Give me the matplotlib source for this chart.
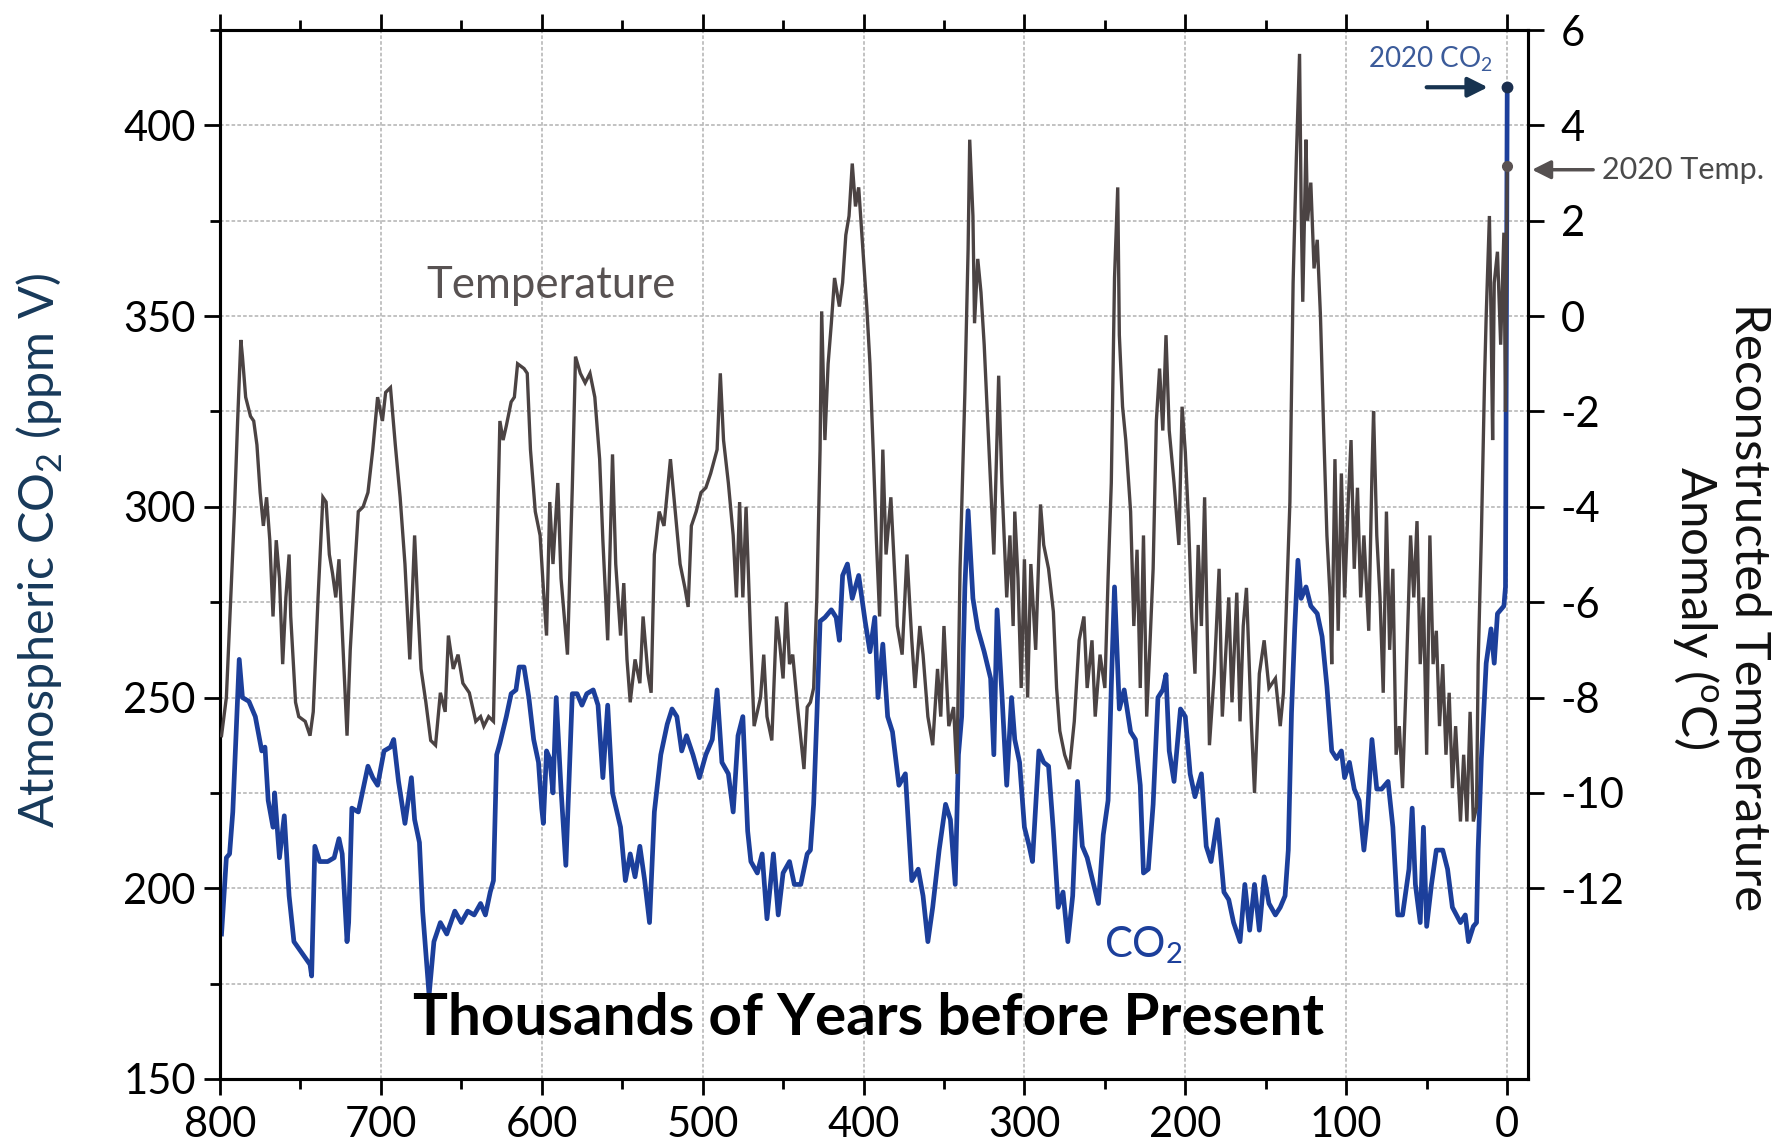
import matplotlib
matplotlib.use('Agg')
import matplotlib.pyplot as plt
from matplotlib.ticker import FixedLocator

plt.rcParams['font.family'] = ['Lato', 'DejaVu Sans']
plt.rcParams['axes.unicode_minus'] = False

# ---------------- data ----------------
co2_age = [799, 796, 794, 792, 788, 786, 782, 778, 774, 772, 770, 767, 766, 763, 760, 757, 754, 749, 744, 743,
           741, 738, 733, 729, 726, 724, 721, 720, 718, 714, 708, 705, 702, 698, 694, 692, 689, 685, 681, 679,
           676, 674, 670, 667, 663, 659, 654, 650, 646, 642, 638, 635, 632, 630, 628, 626, 622, 619, 616, 614,
           611, 608, 605, 602, 600, 599, 597, 595, 593, 591, 588, 585, 581, 578, 575, 572, 568, 565, 562, 559,
           556, 551, 548, 545, 542, 539, 536, 533, 530, 526, 522, 519, 516, 513, 510, 506, 502, 498, 494, 491,
           488, 484, 481, 478, 475, 472, 470, 466, 463, 460, 456, 453, 450, 446, 443, 439, 435, 433, 431, 429,
           427, 424, 420, 417, 415, 413, 410, 407, 403, 399, 396, 393, 391, 388, 385, 382, 378, 374, 370, 366,
           363, 360, 357, 353, 349, 346, 343, 341, 339, 337, 335, 332, 329, 325, 321, 319, 317, 314, 311, 308,
           306, 303, 300, 297, 295, 291, 288, 285, 282, 279, 276, 273, 270, 267, 264, 261, 257, 254, 251, 248,
           246, 244, 241, 238, 234, 231, 228, 226, 223, 220, 217, 214, 212, 210, 207, 203, 200, 197, 194, 190,
           187, 184, 180, 176, 173, 170, 166, 163, 160, 157, 154, 151, 148, 144, 141, 138, 136, 134, 132, 130,
           128, 125, 122, 118, 115, 112, 109, 106, 103, 101, 98, 95, 92, 89, 87, 84, 81, 78, 74, 71,
           68, 65, 61, 59, 57, 54, 52, 50, 47, 44, 40, 37, 34, 29, 26, 24, 21, 19, 18, 16,
           13, 10, 8, 6, 2, 1, -0.07]
co2_ppm = [188, 208, 209, 220, 260, 250, 249, 245, 236, 237, 223, 216, 225, 208, 219, 198, 186, 183, 180, 177,
           211, 207, 207, 208, 213, 209, 186, 191, 221, 220, 232, 229, 227, 236, 237, 239, 228, 217, 229, 218,
           212, 194, 172, 186, 191, 188, 194, 191, 194, 193, 196, 193, 199, 202, 235, 238, 245, 251, 252, 258,
           258, 250, 239, 233, 221, 217, 236, 234, 225, 250, 226, 206, 251, 251, 248, 251, 252, 248, 229, 248,
           225, 216, 202, 209, 203, 211, 202, 191, 220, 235, 243, 247, 245, 236, 240, 235, 229, 235, 239, 252,
           233, 230, 220, 240, 245, 215, 207, 204, 209, 192, 209, 193, 204, 207, 201, 201, 209, 210, 222, 245,
           270, 271, 273, 271, 265, 282, 285, 276, 282, 270, 262, 271, 250, 264, 245, 241, 227, 230, 202, 205,
           198, 186, 195, 210, 222, 218, 201, 235, 245, 279, 299, 276, 268, 262, 255, 235, 273, 251, 227, 250,
           239, 233, 216, 211, 207, 236, 233, 232, 215, 195, 199, 186, 198, 228, 211, 208, 201, 196, 214, 223,
           253, 279, 247, 252, 241, 239, 227, 204, 205, 222, 250, 252, 256, 236, 228, 247, 245, 230, 224, 230,
           211, 207, 218, 199, 197, 191, 186, 201, 189, 201, 189, 203, 196, 193, 195, 198, 210, 246, 268, 286,
           276, 279, 274, 272, 266, 253, 236, 234, 236, 229, 233, 226, 223, 210, 218, 239, 226, 226, 228, 216,
           193, 193, 205, 221, 201, 191, 216, 190, 201, 210, 210, 205, 195, 191, 193, 186, 190, 191, 210, 234,
           259, 268, 259, 272, 274, 279, 410]

temp_age = [799, 796, 793, 791, 789, 787, 786, 784, 781, 779, 777, 775, 773, 771, 769, 767, 765, 763, 761, 759,
            757, 756, 753, 751, 747, 744, 742, 739, 736, 734, 732, 730, 728, 726, 724, 721, 719, 716, 714, 711,
            708, 705, 702, 699, 697, 694, 691, 688, 685, 682, 679, 677, 675, 672, 669, 666, 663, 660, 658, 655,
            652, 649, 645, 641, 638, 636, 633, 630, 628, 626, 624, 622, 619, 617, 615, 611, 609, 607, 604, 601,
            599, 597, 595, 593, 590, 588, 586, 584, 581, 579, 576, 573, 570, 567, 564, 562, 559, 556, 554, 551,
            549, 547, 545, 542, 539, 537, 534, 532, 530, 527, 524, 520, 517, 514, 511, 509, 507, 504, 501, 498,
            495, 491, 489, 487, 484, 481, 479, 477, 475, 473, 470, 468, 464, 462, 460, 457, 454, 452, 450, 448,
            446, 444, 441, 437, 435, 433, 431, 429, 427, 426, 424, 422, 420, 418, 415, 413, 411, 409, 407, 405,
            403, 401, 398, 396, 394, 392, 390, 388, 386, 383, 379, 376, 373, 370, 368, 365, 363, 360, 357, 354,
            352, 350, 347, 344, 342, 340, 337, 335, 334, 332, 331, 329, 327, 325, 322, 319, 316, 314, 311, 309,
            307, 306, 304, 302, 300, 298, 296, 293, 290, 288, 285, 282, 280, 278, 275, 272, 269, 266, 263, 261,
            258, 256, 253, 250, 248, 246, 244, 242, 241, 239, 237, 234, 232, 230, 228, 226, 224, 222, 220, 218,
            216, 214, 212, 210, 207, 204, 202, 200, 198, 196, 194, 192, 190, 188, 185, 182, 179, 177, 173, 171,
            168, 166, 164, 162, 159, 157, 154, 151, 148, 144, 141, 139, 137, 135, 133, 131, 129, 128, 127, 125,
            124, 122, 120, 118, 116, 114, 112, 110, 109, 107, 105, 103, 101, 99, 97, 95, 93, 91, 89, 86,
            84, 83, 81, 79, 77, 75, 73, 71, 69, 67, 65, 63, 60, 58, 56, 54, 52, 50, 48, 46,
            44, 42, 40, 38, 36, 34, 32, 29, 27, 25, 23, 21, 19, 18, 16, 14, 13, 11, 10, 9,
            8, 6, 4, 2, 1, -0.07]
temp_anom = [-8.8, -8.0, -5.7, -4.1, -2.2, -0.5, -0.85, -1.7, -2.1, -2.2, -2.7, -3.7, -4.4, -3.8, -4.7, -6.3, -4.7, -5.5, -7.3, -5.9,
             -5.0, -6.3, -8.1, -8.4, -8.5, -8.8, -8.3, -5.9, -3.8, -3.9, -5.0, -5.4, -5.9, -5.1, -6.6, -8.8, -7.0, -5.2, -4.1, -4.0,
             -3.7, -2.8, -1.7, -2.2, -1.6, -1.5, -2.7, -3.8, -5.2, -7.2, -4.6, -6.1, -7.4, -8.1, -8.9, -9.0, -7.9, -8.3, -6.7, -7.4,
             -7.1, -7.7, -7.9, -8.5, -8.4, -8.6, -8.4, -8.5, -5.2, -2.2, -2.6, -2.3, -1.8, -1.7, -1.0, -1.1, -1.2, -2.8, -4.1, -4.6,
             -5.7, -6.7, -3.9, -5.2, -3.5, -5.5, -6.3, -7.1, -3.6, -0.85, -1.2, -1.4, -1.2, -1.7, -3.0, -4.7, -6.8, -2.9, -5.2, -6.7,
             -5.6, -7.2, -8.1, -7.2, -7.7, -6.3, -7.5, -7.9, -5.0, -4.1, -4.4, -3.0, -4.1, -5.2, -5.7, -6.1, -4.4, -4.1, -3.7, -3.6,
             -3.3, -2.8, -1.2, -2.6, -3.5, -4.6, -5.9, -3.9, -5.9, -4.0, -6.9, -8.6, -8.0, -7.1, -8.4, -8.9, -6.3, -6.9, -7.6, -6.0,
             -7.3, -7.1, -8.2, -9.5, -8.2, -8.1, -7.8, -5.9, -2.8, 0.1, -2.6, -1.0, -0.15, 0.8, 0.2, 0.7, 1.7, 2.1, 3.2, 2.3,
             2.7, 1.7, 0.2, -1.0, -2.8, -4.7, -6.3, -2.8, -5.0, -3.8, -6.5, -7.1, -5.0, -6.8, -7.8, -6.5, -7.1, -8.4, -9.0, -7.4,
             -8.4, -6.5, -8.6, -8.2, -9.6, -5.3, -1.6, 1.4, 3.7, 2.1, -0.15, 1.2, 0.5, -0.6, -2.8, -5.0, -1.25, -3.5, -5.9, -4.6,
             -6.5, -4.1, -5.5, -7.8, -5.1, -8.0, -5.2, -7.0, -3.95, -4.8, -5.3, -6.2, -7.8, -8.7, -9.2, -9.5, -8.5, -6.8, -6.3, -7.8,
             -6.8, -8.4, -7.1, -7.8, -5.5, -3.5, 0.8, 2.7, -0.4, -1.9, -2.6, -4.1, -6.5, -4.9, -7.8, -4.6, -8.4, -6.9, -5.3, -2.2,
             -1.1, -2.4, -0.4, -2.4, -3.5, -4.8, -1.9, -2.85, -4.3, -6.3, -7.5, -4.8, -6.5, -3.8, -9.0, -7.5, -5.3, -8.4, -5.9, -8.1,
             -5.8, -8.5, -6.5, -5.7, -8.5, -10.0, -7.5, -6.8, -7.8, -7.6, -8.6, -7.9, -5.9, -3.9, 0.7, 3.3, 5.5, 2.3, 0.3, 3.7,
             2.0, 2.8, 1.0, 1.6, 0.0, -2.4, -4.6, -5.9, -7.3, -3.0, -6.6, -3.3, -5.9, -4.1, -2.6, -5.3, -3.6, -5.9, -4.6, -6.6,
             -3.3, -2.0, -4.6, -5.9, -7.9, -4.1, -7.0, -5.3, -9.2, -8.6, -9.9, -7.9, -4.6, -5.9, -4.3, -7.3, -5.9, -9.2, -4.6, -7.3,
             -6.6, -8.6, -7.3, -9.2, -7.9, -9.9, -8.6, -10.6, -9.2, -10.6, -8.3, -10.6, -10.3, -7.3, -4.6, -1.3, 0.0, 2.1, 0.0, -2.6,
             0.7, 1.35, -0.6, 1.75, -2.0, 3.14]

x_major = [800, 700, 600, 500, 400, 300, 200, 100, 0]
x_minor = [750, 650, 550, 450, 350, 250, 150, 50]
co2_major = [150, 200, 250, 300, 350, 400]
co2_minor = [175, 225, 275, 325, 375, 425]
temp_ticks = [6, 4, 2, 0, -2, -4, -6, -8, -10, -12]

# ---------------- colours ----------------
TEMP_C = '#4b4343'
CO2_C = '#1c3f9b'
NAVY = '#17395a'

fig = plt.figure(figsize=(17.88, 11.42), dpi=100)
ax = fig.add_axes([0.1230, 0.0552, 0.7316, 0.9185])
ax2 = ax.twinx()

ax.set_xlim(800, -13)
ax.set_ylim(150, 425)
ax2.set_ylim(-16, 6)

ax.xaxis.set_major_locator(FixedLocator(x_major))
ax.xaxis.set_minor_locator(FixedLocator(x_minor))
ax.yaxis.set_major_locator(FixedLocator(co2_major))
ax.yaxis.set_minor_locator(FixedLocator(co2_minor))
ax2.yaxis.set_major_locator(FixedLocator(temp_ticks))
ax2.yaxis.set_minor_locator(FixedLocator([]))

grid_kw = dict(color='#bdbdbd', linestyle=(0, (2, 1.2)), linewidth=1.3)
ax.grid(True, which='major', axis='x', **grid_kw)
ax.grid(True, which='both', axis='y', **grid_kw)
ax.set_axisbelow(True)

# lines
ax.plot(co2_age, co2_ppm, color=CO2_C, lw=3.4, solid_joinstyle='round', zorder=3)
ax2.plot(temp_age, temp_anom, color=TEMP_C, lw=2.4, solid_joinstyle='miter', zorder=3)

# 2020 markers
ax.plot([co2_age[-1]], [co2_ppm[-1]], 'o', color='#1b2f4f', ms=7.5, zorder=6)
ax2.plot([temp_age[-1]], [temp_anom[-1]], 'o', color='#5a5252', ms=7, zorder=6)
ax.annotate('', xy=(12, 410), xytext=(50, 410),
            arrowprops=dict(arrowstyle='-|>', color='#173350', lw=3, mutation_scale=30,
                            shrinkA=0, shrinkB=0))
ax.text(48, 417.5, '2020 CO$_\\mathregular{2}$', ha='center', va='center', fontsize=20, color='#3b5b9a')
ax2.annotate('', xy=(-15.5, 3.07), xytext=(-53.5, 3.07), annotation_clip=False,
             arrowprops=dict(arrowstyle='-|>', color='#555050', lw=2.5, mutation_scale=28,
                             shrinkA=0, shrinkB=0))
ax2.text(-59, 3.07, '2020 Temp.', ha='left', va='center', fontsize=22, color='#4a4a4a', clip_on=False)

# in-plot labels
ax2.text(594, 0.65, 'Temperature', ha='center', va='center', fontsize=31.5, color='#585252')
ax.text(226, 185, 'CO$_\\mathregular{2}$', ha='center', va='center', fontsize=30, color=CO2_C)
ax.text(0.496, 0.058, 'Thousands of Years before Present', transform=ax.transAxes,
        ha='center', va='center', fontsize=42, fontweight='bold', color='black')

# axis labels
fig.text(0.0224, 0.518, 'Atmospheric CO$_\\mathregular{2}$ (ppm V)', rotation=90,
         ha='center', va='center', fontsize=35, color=NAVY)
fig.text(0.9625, 0.468, 'Reconstructed Temperature\nAnomaly ($^\\mathregular{o}$C)', rotation=270,
         ha='center', va='center', fontsize=35.5, multialignment='center', linespacing=1.15, color='#111111')

# ticks & spines
for a in (ax, ax2):
    for s in a.spines.values():
        s.set_linewidth(2.2)
        s.set_color('black')
ax.tick_params(axis='both', which='major', direction='out', length=11.5, width=2, labelsize=30, pad=6)
ax.tick_params(axis='both', which='minor', direction='out', length=7, width=2)
ax.tick_params(axis='x', which='both', top=True, labeltop=False)
ax.tick_params(axis='x', which='major', pad=8)
ax2.tick_params(axis='y', which='major', direction='out', length=11.5, width=2, labelsize=30, pad=12)

fig.savefig('out.png', dpi=100)
